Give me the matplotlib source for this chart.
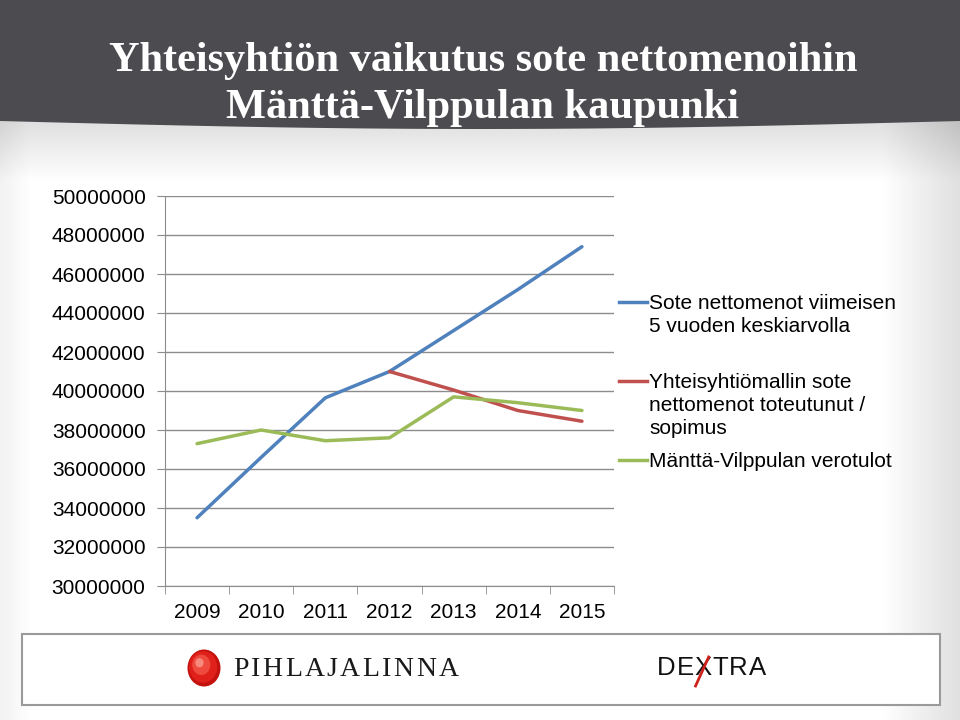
import numpy as np
import matplotlib.pyplot as plt
from matplotlib.patches import Polygon, Rectangle, Ellipse

# --- data ---
years = ["2009", "2010", "2011", "2012", "2013", "2014", "2015"]
sote_avg = [33.5e6, 36.6e6, 39.65e6, 41.0e6, 43.1e6, 45.2e6, 47.4e6]
yhteisyhtio = [np.nan, np.nan, np.nan, 41.0e6, 40.05e6, 39.0e6, 38.45e6]
verotulot = [37.3e6, 38.0e6, 37.45e6, 37.6e6, 39.7e6, 39.4e6, 39.0e6]

series_labels = [
    "Sote nettomenot viimeisen\n5 vuoden keskiarvolla",
    "Yhteisyhtiömallin sote\nnettomenot toteutunut /\nsopimus",
    "Mänttä-Vilppulan verotulot",
]
colors = ["#4F81BD", "#C0504D", "#9BBB59"]
title_lines = ["Yhteisyhtiön vaikutus sote nettomenoihin", "Mänttä-Vilppulan kaupunki"]

W, H = 960, 720
fig = plt.figure(figsize=(W / 100, H / 100), dpi=100)
renderer = fig.canvas.get_renderer()


def spaced_text(ax, x, y, s, gap, **kw):
    # letter-spaced logo text, one glyph at a time; returns glyph x-ranges
    inv = ax.transData.inverted()
    spans = []
    for ch in s:
        t = ax.text(x, y, ch, ha="left", va="center", **kw)
        bb = t.get_window_extent(renderer)
        w = inv.transform((bb.x1, 0))[0] - inv.transform((bb.x0, 0))[0]
        spans.append((x, x + w))
        x += w + gap
    return spans


# background axes in pixel coordinates
bg = fig.add_axes([0, 0, 1, 1], zorder=0)
bg.set_xlim(0, W)
bg.set_ylim(H, 0)
bg.axis("off")

xx = np.linspace(0, 1, 480)
yy = np.linspace(0, 1, 360)
X, Y = np.meshgrid(xx, yy)
shade = np.ones_like(X)
shade -= 0.12 * np.clip((X - 0.92) / 0.08, 0, 1)
shade -= 0.05 * np.clip((0.03 - X) / 0.03, 0, 1)
shade -= 0.12 * np.clip((0.25 - Y) / 0.08, 0, 1) * (Y > 0.16)
shade = np.clip(shade, 0, 1)
bg.imshow(np.dstack([shade, shade, shade]), extent=[0, W, H, 0], aspect="auto", zorder=0)

# dark header band with slightly curved lower edge
xs = np.linspace(0, W, 100)
bottom = 121 + 8 * np.sin(np.pi * xs / W)
band = Polygon(np.column_stack([np.r_[xs, W, 0], np.r_[bottom, 0, 0]]),
               closed=True, facecolor="#4b4b50", edgecolor="none", zorder=1)
bg.add_patch(band)
bg.text(483, 61, title_lines[0], color="white", ha="center", va="center",
        family="Liberation Serif", fontweight="bold", fontsize=30.5, zorder=2)
bg.text(483, 108, title_lines[1], color="white", ha="center", va="center",
        family="Liberation Serif", fontweight="bold", fontsize=30.5, zorder=2)

# logo strip
bg.add_patch(Rectangle((22, 634), 918, 71, facecolor="white", edgecolor="#9a9a9a",
                       linewidth=1.5, zorder=1))
for r, c in [(1.0, "#c4120f"), (0.85, "#e0201b"), (0.55, "#ee4a3e"), (0.25, "#f78a7e")]:
    bg.add_patch(Ellipse((204 - (1 - r) * 6, 668 - (1 - r) * 7), 33 * r, 37 * r,
                         facecolor=c, edgecolor="none", zorder=2))
spaced_text(bg, 233, 669, "PIHLAJALINNA", 2.4, family="Liberation Serif",
            fontsize=20, color="#1a1a1a", zorder=2)
spans = spaced_text(bg, 657, 668, "DEXTRA", 0.9, family="Liberation Sans",
                    fontsize=18.5, color="#111111", zorder=2)
x0, x1 = spans[2]
bg.plot([x0 + 1, x1 - 3], [686, 657], color="#d0201b", linewidth=2, zorder=3)

# legend drawn by hand, text beside a short line at the first text row
legend_y = [302, 381, 460]
for lab, col, ly in zip(series_labels, colors, legend_y):
    bg.plot([619, 647], [ly, ly], color=col, linewidth=2.5, zorder=2)
    bg.text(649, ly - 8, lab, fontsize=15, family="Liberation Sans",
            ha="left", va="top", linespacing=1.25, zorder=2)

# chart
ax = fig.add_axes([165 / W, 1 - 586 / H, (614 - 165) / W, (586 - 196) / H], zorder=1)
ax.patch.set_alpha(0)
x = np.arange(len(years))
for vals, col in zip([sote_avg, yhteisyhtio, verotulot], colors):
    ax.plot(x, vals, color=col, linewidth=2.5, solid_capstyle="round")

ax.set_xlim(-0.5, len(years) - 0.5)
ax.set_ylim(30e6, 50e6)
ax.set_yticks(np.arange(30e6, 50e6 + 1, 2e6))
ax.set_yticklabels([f"{int(v)}" for v in np.arange(30e6, 50e6 + 1, 2e6)],
                   family="Liberation Sans", fontsize=15)
ax.set_xticks(x)
ax.set_xticklabels(years, family="Liberation Sans", fontsize=15)
ax.set_xticks(np.arange(-0.5, len(years)), minor=True)
ax.tick_params(axis="x", which="major", length=0, pad=12)
ax.tick_params(axis="x", which="minor", length=6, color="#8c8c8c", direction="out")
ax.tick_params(axis="y", length=6, color="#8c8c8c", direction="out", pad=8)
ax.grid(axis="y", color="#8c8c8c", linewidth=1)
for s in ["top", "right"]:
    ax.spines[s].set_visible(False)
for s in ["left", "bottom"]:
    ax.spines[s].set_color("#8c8c8c")
ax.set_axisbelow(True)

fig.savefig("out.png", dpi=100)
